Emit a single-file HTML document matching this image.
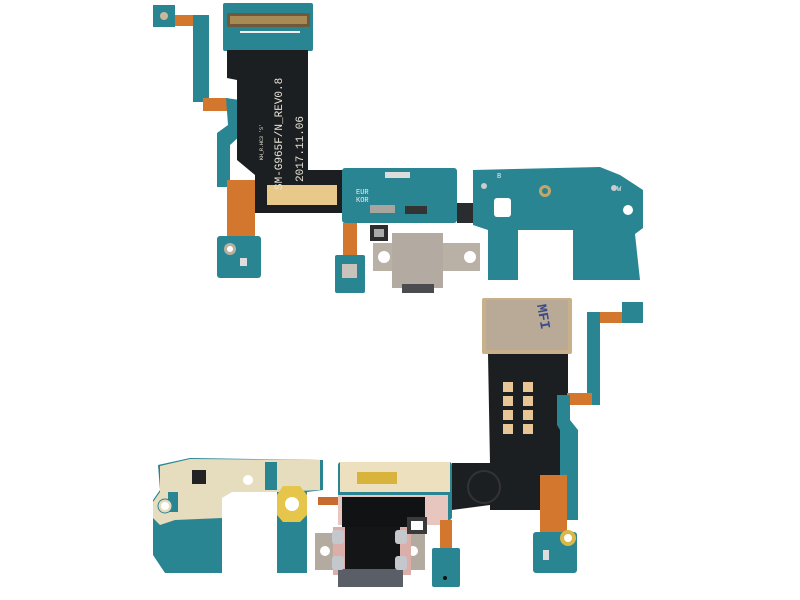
<!DOCTYPE html>
<html><head><meta charset="utf-8"><style>html,body{margin:0;padding:0;background:#fff}svg{display:block}</style></head>
<body>
<svg width="800" height="600" viewBox="0 0 800 600" xmlns="http://www.w3.org/2000/svg" font-family="Liberation Mono, monospace">
<rect width="800" height="600" fill="#fff"/>
<!-- TOP ASSEMBLY -->
<rect x="153" y="5" width="22" height="22" fill="#2a8593"/>
<circle cx="164" cy="16" r="4" fill="#c9b89a"/>
<rect x="175" y="15" width="22" height="11" fill="#d4772e"/>
<rect x="193" y="15" width="16" height="87" fill="#2a8593"/>
<rect x="203" y="98" width="25" height="13" fill="#d4772e"/>
<polygon points="226,98 240,100 241,135 230,145 230,187 217,187 217,133 228,125" fill="#2a8593"/>
<rect x="227" y="180" width="28" height="60" fill="#d4772e"/>
<rect x="217" y="236" width="44" height="42" rx="3" fill="#2a8593"/>
<circle cx="230" cy="249" r="6" fill="#b8b0a0"/><circle cx="230" cy="249" r="3" fill="#fff"/>
<rect x="240" y="258" width="7" height="8" fill="#ddd"/>
<rect x="223" y="3" width="90" height="48" rx="2" fill="#2a8593"/>
<rect x="227" y="13" width="83" height="14" fill="#6e5a3a"/>
<rect x="230" y="16" width="77" height="8" fill="#a88a55"/>
<rect x="240" y="31" width="60" height="2" fill="#eee"/>
<polygon points="227,50 308,50 308,170 343,170 343,213 255,213 255,175 237,160 237,80 227,78" fill="#1c1f22"/>
<rect x="267" y="185" width="70" height="20" fill="#e8c98a"/>
<text transform="translate(282,190) rotate(-90)" font-size="11" fill="#e8e4d8">SM-G965F/N_REV0.8</text>
<text transform="translate(303,182) rotate(-90)" font-size="11" fill="#e8e4d8">2017.11.06</text>
<text transform="translate(263,160) rotate(-90)" font-size="5" fill="#e8e4d8">KH_R.HC3 'S'</text>
<rect x="342" y="168" width="115" height="55" rx="3" fill="#2a8593"/>
<rect x="385" y="172" width="25" height="6" fill="#ddd"/>
<text x="356" y="194" font-size="7" fill="#eee">EUR</text>
<text x="356" y="202" font-size="7" fill="#eee">KOR</text>
<rect x="370" y="205" width="25" height="8" fill="#a8a59e"/>
<rect x="405" y="206" width="22" height="8" fill="#333"/>
<rect x="457" y="203" width="20" height="20" fill="#2a2d30"/>
<rect x="343" y="223" width="14" height="33" fill="#d4772e"/>
<rect x="335" y="255" width="30" height="38" rx="2" fill="#2a8593"/>
<rect x="342" y="264" width="15" height="14" fill="#c8c4bc"/>
<rect x="370" y="225" width="18" height="16" fill="#2c2c2c"/><rect x="374" y="229" width="10" height="8" fill="#aaa"/>
<rect x="373" y="243" width="107" height="28" fill="#b9b0a6"/>
<circle cx="384" cy="257" r="6" fill="#fff"/><circle cx="470" cy="257" r="6" fill="#fff"/>
<rect x="392" y="233" width="51" height="55" fill="#b3aba2"/>
<rect x="402" y="284" width="32" height="9" fill="#4a4c50"/>
<!-- right board -->
<polygon points="473,170 600,167 620,175 643,190 643,228 635,234 640,280 573,280 573,230 518,230 518,280 488,280 488,230 473,225" fill="#2a8593"/>
<rect x="494" y="198" width="17" height="19" rx="3" fill="#fff"/>
<circle cx="545" cy="191" r="6" fill="#c5a66a"/><circle cx="545" cy="191" r="3" fill="#2a8593"/>
<circle cx="628" cy="210" r="5" fill="#fff"/>
<text x="497" y="178" font-size="7" fill="#eee">B</text>
<text x="617" y="191" font-size="7" fill="#eee">W</text>
<circle cx="484" cy="186" r="3" fill="#ccc"/><circle cx="614" cy="188" r="3" fill="#ccc"/>
<!-- BOTTOM ASSEMBLY -->
<rect x="482" y="298" width="90" height="56" rx="2" fill="#c7b08a"/>
<rect x="486" y="300" width="82" height="50" fill="#b8aa96"/>
<text transform="translate(537,305) rotate(80)" font-size="14" font-weight="bold" fill="#3a4a8a">MFI</text>
<polygon points="488,354 568,354 568,510 490,510 490,505 452,510 452,463 490,463" fill="#1c1f22"/>
<g fill="#e8c594">
<rect x="503" y="382" width="10" height="10"/><rect x="523" y="382" width="10" height="10"/>
<rect x="503" y="396" width="10" height="10"/><rect x="523" y="396" width="10" height="10"/>
<rect x="503" y="410" width="10" height="10"/><rect x="523" y="410" width="10" height="10"/>
<rect x="503" y="424" width="10" height="10"/><rect x="523" y="424" width="10" height="10"/>
</g>
<circle cx="484" cy="487" r="16" fill="none" stroke="#333" stroke-width="2"/>
<rect x="622" y="302" width="21" height="21" fill="#2a8593"/>
<rect x="595" y="312" width="27" height="11" fill="#d4772e"/>
<rect x="587" y="312" width="13" height="93" fill="#2a8593"/>
<rect x="567" y="393" width="25" height="12" fill="#d4772e"/>
<polygon points="557,395 570,395 570,420 578,430 578,520 560,520 560,430 557,425" fill="#2a8593"/>
<rect x="540" y="475" width="27" height="57" fill="#d4772e"/>
<rect x="533" y="532" width="44" height="41" rx="3" fill="#2a8593"/>
<circle cx="568" cy="538" r="8" fill="#d9b84a"/><circle cx="568" cy="538" r="4" fill="#fff"/>
<rect x="543" y="550" width="6" height="10" fill="#ddd"/>
<!-- left board -->
<polygon points="158,465 190,458 323,460 323,490 307,492 307,573 277,573 277,492 222,492 222,573 165,573 153,555 153,500 160,490" fill="#2a8593"/>
<polygon points="160,466 190,459 320,460 320,490 277,492 232,492 222,498 222,518 175,520 160,525 153,518 153,502 160,492" fill="#e6dcbe"/>
<rect x="192" y="470" width="14" height="14" fill="#222"/>
<rect x="168" y="492" width="10" height="20" fill="#2a8593"/>
<circle cx="165" cy="506" r="7" fill="#e6dcbe" stroke="#2a8593"/><circle cx="165" cy="506" r="4" fill="#fff"/>
<circle cx="248" cy="480" r="5" fill="#fff"/>
<rect x="265" y="462" width="12" height="28" fill="#2a8593"/>
<polygon points="283,486 300,486 307,495 307,515 300,522 283,522 277,515 277,495" fill="#e6c64a"/>
<circle cx="292" cy="504" r="7" fill="#fff"/>
<rect x="318" y="497" width="22" height="8" fill="#c86a30"/>
<!-- middle board -->
<rect x="338" y="462" width="114" height="58" rx="3" fill="#2a8593"/>
<rect x="340" y="462" width="110" height="30" fill="#ece0bf"/>
<rect x="357" y="472" width="40" height="12" fill="#d9b43c"/>
<rect x="338" y="495" width="110" height="30" fill="#e8c6c0"/>
<rect x="342" y="497" width="83" height="72" fill="#111214"/>
<rect x="315" y="533" width="110" height="37" fill="#b3aaa0"/>
<circle cx="325" cy="551" r="5" fill="#fff"/><circle cx="413" cy="551" r="5" fill="#fff"/>
<rect x="333" y="527" width="78" height="48" fill="#dcaeaa"/>
<rect x="345" y="527" width="55" height="46" fill="#141517"/>
<rect x="338" y="569" width="65" height="18" fill="#5a5e66"/>
<rect x="332" y="530" width="12" height="14" rx="3" fill="#c4c8cc"/><rect x="395" y="530" width="12" height="14" rx="3" fill="#c4c8cc"/>
<rect x="332" y="556" width="12" height="14" rx="3" fill="#c4c8cc"/><rect x="395" y="556" width="12" height="14" rx="3" fill="#c4c8cc"/>
<rect x="407" y="517" width="20" height="17" fill="#3a3a3a"/><rect x="411" y="521" width="12" height="9" fill="#fff"/>
<rect x="440" y="520" width="12" height="30" fill="#d4772e"/>
<rect x="432" y="548" width="28" height="39" rx="2" fill="#2a8593"/>
<circle cx="445" cy="578" r="2" fill="#111"/>
</svg>
</body></html>
